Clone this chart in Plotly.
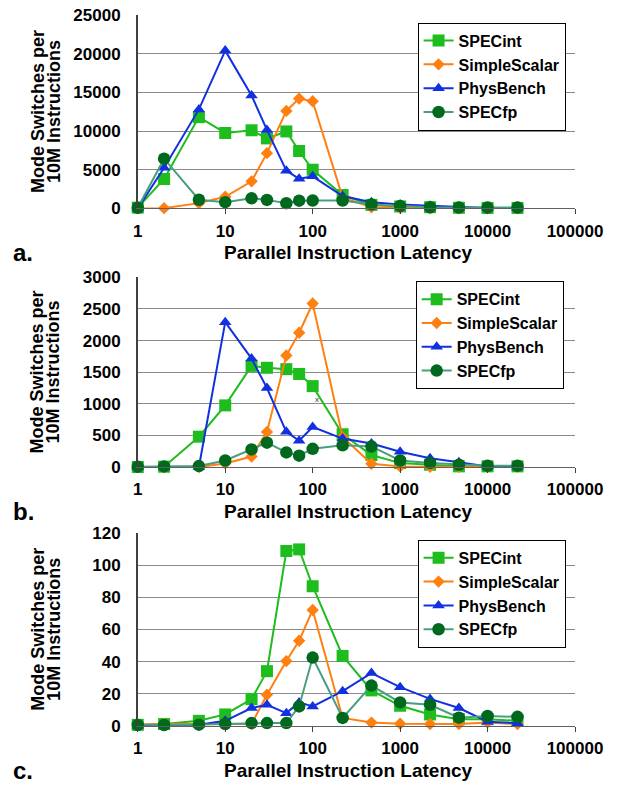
import plotly.graph_objects as go

# ---------------- data ----------------
latency = [1, 2, 5, 10, 20, 30, 50, 70, 100, 220, 470, 1000, 2200, 4700, 10000, 22000]

series_names = ["SPECint", "SimpleScalar", "PhysBench", "SPECfp"]

# panel a
specint_a = [100, 3800, 11800, 9750, 10100, 9050, 9950, 7420, 5000, 1730, 450, 250, 150, 80, 60, 60]
simple_a = [0, 30, 680, 1500, 3500, 7140, 12600, 14200, 13850, 1420, 150, 50, 30, 20, 10, 10]
phys_a = [0, 5250, 12800, 20400, 14600, 10150, 4880, 3820, 4150, 1600, 800, 500, 330, 200, 50, 30]
specfp_a = [80, 6430, 1120, 800, 1300, 1100, 680, 1000, 1020, 1020, 500, 300, 150, 100, 100, 100]

# panel b
specint_b = [0, 5, 480, 975, 1600, 1570, 1548, 1472, 1280, 518, 190, 62, 36, 10, 10, 10]
simple_b = [0, 0, 0, 57, 165, 555, 1764, 2124, 2587, 474, 52, 10, 3, 2, 2, 2]
phys_b = [0, 0, 0, 2292, 1715, 1250, 556, 415, 633, 450, 371, 242, 139, 77, 10, 5]
specfp_b = [5, 10, 15, 103, 278, 385, 231, 180, 288, 345, 325, 103, 62, 36, 20, 20]

# panel c
specint_c = [0.5, 1, 3, 7, 16.5, 34, 109, 110, 87, 43.5, 22, 12.4, 7, 4, 4, 3]
simple_c = [0.5, 1, 1, 1, 1, 19.3, 40.3, 53, 72.2, 4.8, 1.9, 1.2, 1, 1, 2, 1]
phys_c = [0, 0, 0.5, 3, 11, 13, 7.8, 14.5, 12, 21.5, 32.8, 24, 16.7, 11, 2.5, 1.5]
specfp_c = [0.4, 0.4, 0.6, 1, 1.6, 1.6, 1.6, 12, 42.5, 4.8, 25, 14.5, 13, 5, 6, 5.5]

panels = [
    [specint_a, simple_a, phys_a, specfp_a],
    [specint_b, simple_b, phys_b, specfp_b],
    [specint_c, simple_c, phys_c, specfp_c],
]
y_ranges = [[0, 25000], [0, 3000], [0, 120]]
y_dtick = [5000, 500, 20]
panel_letters = ["a.", "b.", "c."]

x_tickvals = [1, 10, 100, 1000, 10000, 100000]
x_ticktext = ["1", "10", "100", "1000", "10000", "100000"]

# ---------------- styles ----------------
W, H = 640, 790
FONT = "Liberation Sans, Arial, sans-serif"
line_colors = ["#1dbd1d", "#ff7f11", "#1230e0", "#4a9e80"]
marker_colors = ["#1dbd1d", "#ff7f11", "#1230e0", "#00691e"]
symbols = ["square", "diamond", "triangle-up", "circle"]
msizes = [12, 9.5, 11, 12.5]

# pixel geometry of the plot areas (top, bottom)
x_px = (140, 601)
y_px = [(6.2, 204.3), (275.0, 469.3), (537.3, 734.3)]
legend_px = [(435, 14), (433, 279), (435, 544)]


def py(v):
    return 1 - v / H


def px(v):
    return v / W


fig = go.Figure()
for p, data in enumerate(panels):
    xa = "x" if p == 0 else f"x{p+1}"
    ya = "y" if p == 0 else f"y{p+1}"
    lg = "legend" if p == 0 else f"legend{p+1}"
    for i, name in enumerate(series_names):
        fig.add_trace(go.Scatter(
            x=latency, y=data[i], name=name, mode="lines+markers",
            xaxis=xa, yaxis=ya, legend=lg, cliponaxis=False,
            line=dict(color=line_colors[i], width=2),
            marker=dict(symbol=symbols[i], size=msizes[i], color=marker_colors[i],
                        line=dict(width=0)),
        ))

layout = dict(
    width=W, height=H, margin=dict(l=0, r=0, t=0, b=0),
    paper_bgcolor="white", plot_bgcolor="white",
    font=dict(family=FONT, color="black"),
    showlegend=True,
)
annotations = []
for p in range(3):
    sx = "" if p == 0 else str(p + 1)
    top, bot = y_px[p]
    layout["xaxis" + sx] = dict(
        type="log", range=[0, 5], domain=[px(x_px[0]), px(x_px[1])],
        anchor="y" + sx, tickvals=x_tickvals, ticktext=x_ticktext,
        ticks="outside", ticklen=5, tickcolor="#404040", tickwidth=1,
        showline=True, linecolor="#606060", linewidth=1,
        showgrid=False, zeroline=False, ticklabelstandoff=2,
        tickfont=dict(family=FONT, size=17, weight="bold", color="black"),
    )
    layout["yaxis" + sx] = dict(
        range=y_ranges[p], dtick=y_dtick[p], domain=[py(bot), py(top)],
        anchor="x" + sx, showgrid=True, gridcolor="#8a8a8a", gridwidth=1,
        showline=True, linecolor="#404040", linewidth=1.5, zeroline=False,
        ticks="", ticklabelstandoff=12, tickformat="d",
        tickfont=dict(family=FONT, size=17, weight="bold", color="black"),
    )
    lx, ly = legend_px[p]
    layout["legend" if p == 0 else f"legend{p+1}"] = dict(
        x=px(lx), y=py(ly), xanchor="left", yanchor="top",
        bgcolor="white", bordercolor="black", borderwidth=1,
        font=dict(family=FONT, size=16, weight="bold", color="black"),
        itemwidth=30, tracegroupgap=0,
    )
    off = [0, 265, 530][p]
    yc = (top + bot) / 2
    annotations += [
        dict(text="Mode Switches per", x=px(34), y=py(yc), xref="paper", yref="paper",
             textangle=-90, showarrow=False, xanchor="center", yanchor="middle",
             font=dict(family=FONT, size=18, weight="bold", color="black")),
        dict(text="10M Instructions", x=px(51), y=py(yc), xref="paper", yref="paper",
             textangle=-90, showarrow=False, xanchor="center", yanchor="middle",
             font=dict(family=FONT, size=18, weight="bold", color="black")),
        dict(text="Parallel Instruction Latency", x=px(362), y=py(250 + off),
             xref="paper", yref="paper", showarrow=False,
             xanchor="center", yanchor="middle",
             font=dict(family=FONT, size=19, weight="bold", color="black")),
        dict(text=panel_letters[p], x=px(19), y=py(250 + off),
             xref="paper", yref="paper", showarrow=False,
             xanchor="center", yanchor="middle",
             font=dict(family=FONT, size=24, weight="bold", color="black")),
    ]

# small stray mark present in panel b
annotations.append(dict(text="x", x=px(329), y=py(400), xref="paper", yref="paper",
                        showarrow=False, font=dict(family=FONT, size=8, color="#333333")))
layout["annotations"] = annotations
fig.update_layout(**layout)

fig.write_html("out.html", config={"displayModeBar": False},
               post_script="document.body.style.margin='0px';")
